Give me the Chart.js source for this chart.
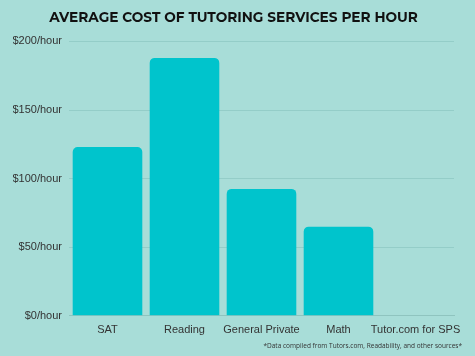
<!DOCTYPE html>
<html>
<head>
<meta charset="utf-8">
<script src="https://cdn.jsdelivr.net/npm/chart.js@4.4.0/dist/chart.umd.min.js"></script>
<style>
html,body{margin:0;padding:0;background:#a8ddd8;}
#wrap{width:475px;height:356px;position:relative;}
</style>
</head>
<body>
<div id="wrap"><canvas id="c" width="475" height="356"></canvas></div>
<script>
const categories = ["SAT", "Reading", "General Private", "Math", "Tutor.com for SPS"];
const costs = [123, 188, 92.5, 65, 0];
const yTicks = [0, 50, 100, 150, 200];
const titleText = "AVERAGE COST OF TUTORING SERVICES PER HOUR";
const footnote = "*Data compiled from Tutors.com, Readability, and other sources*";

const footnotePlugin = {
  id: 'footnote',
  afterDraw(chart) {
    const ctx = chart.ctx;
    ctx.save();
    ctx.font = '6.5px "Open Sans", sans-serif';
    ctx.fillStyle = '#333';
    ctx.textAlign = 'right';
    ctx.textBaseline = 'middle';
    ctx.fillText(footnote, chart.width - 13, chart.height - 10);
    ctx.restore();
  }
};

new Chart(document.getElementById('c'), {
  type: 'bar',
  data: {
    labels: categories,
    datasets: [{
      data: costs,
      backgroundColor: '#00c4cc',
      borderRadius: 5,
      borderSkipped: 'bottom',
      barPercentage: 0.904,
      categoryPercentage: 1.0
    }]
  },
  plugins: [footnotePlugin],
  options: {
    responsive: false,
    animation: false,
    devicePixelRatio: 1,
    layout: { padding: { left: 13, right: 21, top: 0, bottom: 19 } },
    plugins: {
      legend: { display: false },
      tooltip: { enabled: false },
      title: {
        display: true,
        text: titleText,
        color: '#111',
        font: { family: 'Montserrat, "DejaVu Sans", sans-serif', size: 13.7, weight: 'bold' },
        padding: { top: 10, bottom: 15 }
      }
    },
    scales: {
      x: {
        grid: { display: false },
        border: { display: true, color: '#8fc4bf', width: 1 },
        ticks: { color: '#333', font: { family: '"Liberation Sans", Arial, sans-serif', size: 11 }, padding: 0, maxRotation: 0, autoSkip: false }
      },
      y: {
        min: 0, max: 200,
        afterBuildTicks: (s) => { s.ticks = yTicks.map(v => ({ value: v })); },
        afterFit: (s) => { s.width = 56; },
        grid: { color: '#94cdc8', lineWidth: 1, drawTicks: false },
        border: { display: false },
        ticks: {
          color: '#333',
          font: { family: '"Liberation Sans", Arial, sans-serif', size: 11 },
          padding: 7,
          callback: (v) => '$' + v + '/hour'
        }
      }
    }
  }
});
</script>
</body>
</html>
